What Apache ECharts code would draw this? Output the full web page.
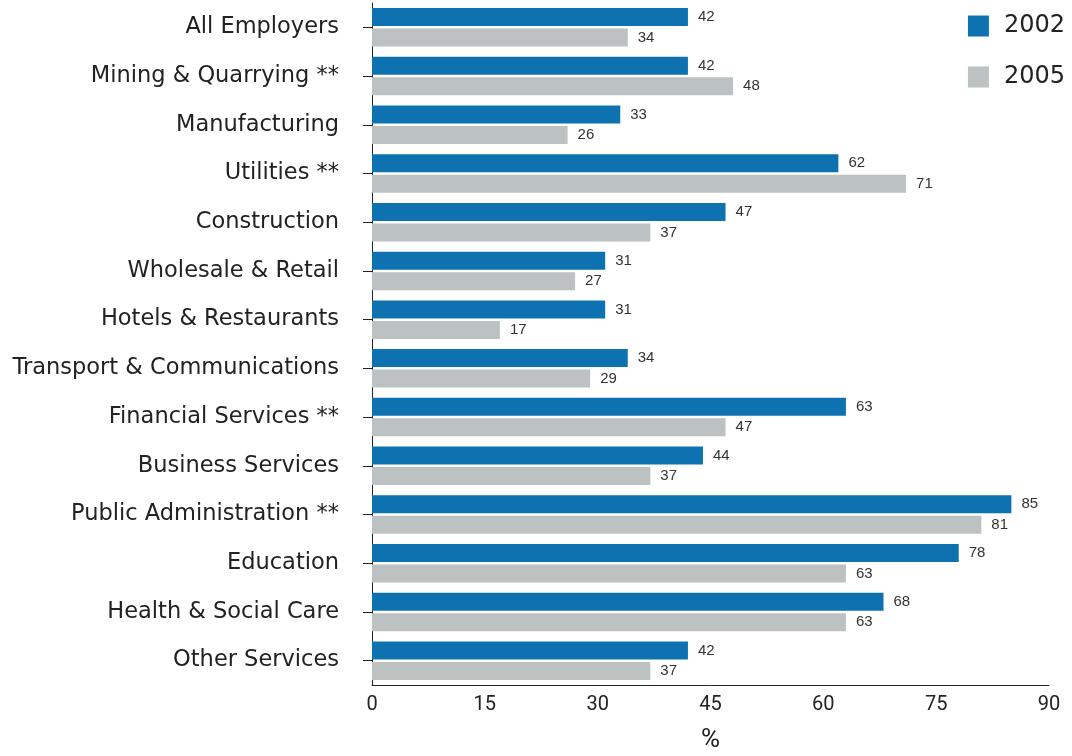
<!DOCTYPE html>
<html>
<head>
<meta charset="utf-8">
<script src="https://cdn.jsdelivr.net/npm/echarts@6/dist/echarts.min.js"></script>
<style>html,body{margin:0;padding:0;background:#fff}#c{width:1072px;height:756px}</style>
</head>
<body>
<div id="c"></div>
<script>
const categories = ["All Employers","Mining & Quarrying **","Manufacturing","Utilities **","Construction","Wholesale & Retail","Hotels & Restaurants","Transport & Communications","Financial Services **","Business Services","Public Administration **","Education","Health & Social Care","Other Services"];
const values2002 = [42,42,33,62,47,31,31,34,63,44,85,78,68,42];
const values2005 = [34,48,26,71,37,27,17,29,47,37,81,63,63,37];
const seriesNames = ["2002","2005"];
const xTicks = [0,15,30,45,60,75,90];

const chart = echarts.init(document.getElementById('c'), null, {renderer:'canvas'});
chart.setOption({
  animation:false,
  backgroundColor:'#fff',
  textStyle:{fontFamily:'DejaVu Sans'},
  legend:{
    orient:'vertical', right:2, top:9,
    itemWidth:21, itemHeight:21, itemGap:27,
    icon:'rect',
    textStyle:{fontSize:24, lineHeight:21, color:'#222', fontFamily:'DejaVu Sans', padding:[0,0,0,10]},
    data:seriesNames
  },
  grid:{left:372, right:23, top:3, bottom:71, containLabel:false, outerBoundsMode:'none'},
  xAxis:{
    type:'value', min:xTicks[0], max:xTicks[xTicks.length-1], interval:15,
    name:'%', nameLocation:'middle', nameGap:42,
    nameTextStyle:{fontSize:26, color:'#222', fontFamily:'Roboto'},
    axisLine:{show:true, lineStyle:{color:'#222', width:1}},
    axisTick:{show:false},
    splitLine:{show:false},
    axisLabel:{fontSize:20, color:'#222', margin:10, fontFamily:'Roboto'}
  },
  yAxis:{
    type:'category', data:categories, inverse:true,
    axisLine:{show:true, lineStyle:{color:'#222', width:1}},
    axisTick:{show:true, alignWithLabel:true, length:9, lineStyle:{color:'#222'}},
    axisLabel:{fontSize:22.5, color:'#222', margin:33, fontFamily:'DejaVu Sans'}
  },
  series:[
    {name:seriesNames[0], type:'bar', data:values2002, barWidth:18, barGap:'14%',
     itemStyle:{color:'#0e72b0'},
     label:{show:true, position:'right', distance:10, fontSize:15, color:'#333', fontFamily:'Liberation Sans'}},
    {name:seriesNames[1], type:'bar', data:values2005, barWidth:18, barGap:'14%',
     itemStyle:{color:'#bcc1c1'},
     label:{show:true, position:'right', distance:10, fontSize:15, color:'#333', fontFamily:'Liberation Sans'}}
  ]
});
</script>
</body>
</html>
